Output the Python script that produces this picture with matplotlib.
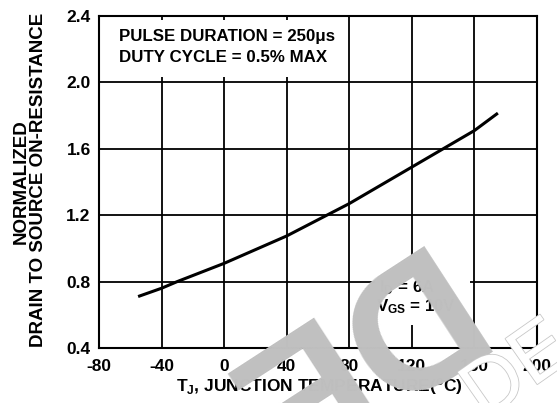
import numpy as np
import matplotlib.pyplot as plt
import matplotlib.patheffects as pe
from matplotlib.patches import Rectangle

plt.rcParams['font.family'] = ['Liberation Sans', 'DejaVu Sans']
plt.rcParams['font.weight'] = 'bold'
plt.rcParams['mathtext.fontset'] = 'custom'
plt.rcParams['mathtext.rm'] = 'Liberation Sans:bold'
plt.rcParams['mathtext.it'] = 'Liberation Sans:bold'
plt.rcParams['mathtext.bf'] = 'Liberation Sans:bold'

# 数据：结温 vs 归一化导通电阻
temp_c = [-55, -40, -30, 0, 40, 80, 120, 160, 175]
r_norm = [0.71, 0.76, 0.80, 0.91, 1.075, 1.27, 1.49, 1.71, 1.815]

x_ticks = [-80, -40, 0, 40, 80, 120, 160, 200]
y_ticks = [0.4, 0.8, 1.2, 1.6, 2.0, 2.4]

W, H = 557, 403
fig = plt.figure(figsize=(W / 100, H / 100), dpi=100)
ax = fig.add_axes([99 / W, 1 - 348 / H, (537 - 99) / W, (348 - 16) / H])

ax.plot(temp_c, r_norm, color='black', lw=2.2, zorder=3, solid_capstyle='butt')

ax.set_xlim(-80, 200)
ax.set_ylim(0.4, 2.4)
ax.set_xticks(x_ticks)
ax.set_yticks(y_ticks)
ax.set_xticklabels([str(t) for t in x_ticks], fontweight='bold', fontsize=12.5)
ax.set_yticklabels([f'{v:.1f}' for v in y_ticks], fontweight='bold', fontsize=12.5)
ax.tick_params(length=0)
ax.tick_params(axis='x', pad=8)
ax.tick_params(axis='y', pad=6)
ax.grid(True, color='black', lw=1.3)
for s in ax.spines.values():
    s.set_linewidth(1.5)
    s.set_zorder(4)

# 文字框（白底遮住网格）
ax.add_patch(Rectangle((-79.5, 2.033), 158.0, 0.343, facecolor='white',
                       edgecolor='none', zorder=2))
ax.text(-67.2, 2.277, 'PULSE DURATION = 250\u03bcs', fontsize=12.2,
        fontweight='bold', va='center', ha='left', zorder=3)
ax.text(-67.2, 2.147, 'DUTY CYCLE = 0.5% MAX', fontsize=12.2,
        fontweight='bold', va='center', ha='left', zorder=3)

ax.add_patch(Rectangle((96.4, 0.539), 60.6, 0.421, facecolor='white',
                       edgecolor='none', zorder=2))
ax.text(99.0, 0.765, r'I$_\mathregular{D}$ = 6A', fontsize=12.2,
        fontweight='bold', va='center', ha='left', zorder=3)
ax.text(96.8, 0.65, r'V$_\mathregular{GS}$ = 10V', fontsize=12.2,
        fontweight='bold', va='center', ha='left', zorder=3)

# 坐标轴标题
fig.text(21.5 / W, 1 - 182 / H, 'NORMALIZED', rotation=90, fontsize=13.5,
         fontweight='bold', ha='center', va='center')
fig.text(39 / W, 1 - 180 / H, 'DRAIN TO SOURCE ON-RESISTANCE', rotation=90,
         fontsize=13.5, fontweight='bold', ha='center', va='center')
fig.text(319 / W, 1 - 387 / H,
         r'T$_\mathregular{J}$, JUNCTION TEMPERATURE($^\mathregular{o}$C)',
         fontsize=12.5, fontweight='bold', ha='center', va='center')

# 水印（倒置的大字 + 右下角空心字）
fig.text(412 / W, 1 - 244 / H, 'DE', rotation=213, rotation_mode='anchor',
         fontsize=132, fontweight='bold', color='#c0c0c0', ha='left',
         va='baseline', zorder=10)
fig.text(518 / W, 1 - 372 / H, 'DE', rotation=35, rotation_mode='anchor',
         fontsize=58, fontweight='normal', color='white', ha='center',
         va='center', zorder=10,
         path_effects=[pe.withStroke(linewidth=1.2, foreground='#c8c8c8')])

fig.savefig('out.png', dpi=100)
